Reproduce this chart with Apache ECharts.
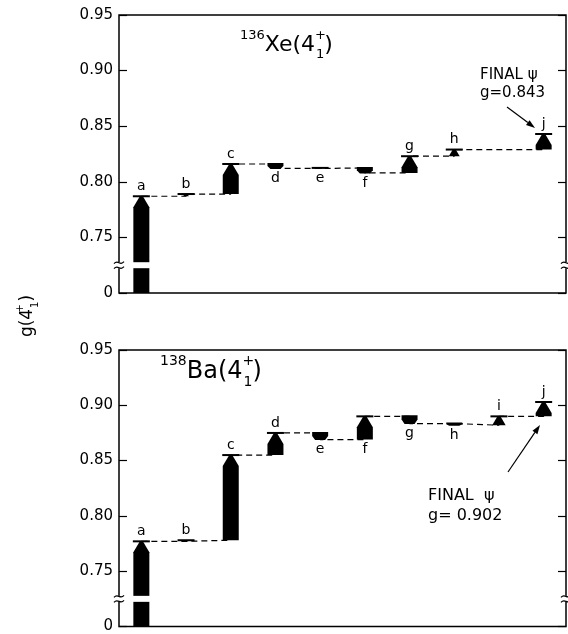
<!DOCTYPE html>
<html>
<head>
<meta charset="utf-8">
<script src="https://cdn.jsdelivr.net/npm/echarts@6.0.0/dist/echarts.min.js"></script>
<style>
html, body { margin: 0; padding: 0; background: #fff; }
#main { width: 568px; height: 634px; }
</style>
</head>
<body>
<div id="main"></div>
<script>
// 每一步修正 a..j 之后的 g 值，null 表示这一步没有
var categories = ['a', 'b', 'c', 'd', 'e', 'f', 'g', 'h', 'i', 'j'];
var xeValues = [0.787, 0.789, 0.816, 0.812, 0.8125, 0.808, 0.823, 0.829, null, 0.843];
var baValues = [0.777, 0.778, 0.855, 0.875, 0.869, 0.890, 0.8835, 0.882, 0.890, 0.903];
var startValue = 0;
// 纵轴刻度，最下面的 0.70 其实是断轴后的 0
var yTicks = [0.70, 0.75, 0.80, 0.85, 0.90, 0.95];
var breakValue = 0.725;
var xeFinal = '0.843';
var baFinal = '0.902';

var FONT = '"DejaVu Sans", sans-serif';
var xeBelow = ['d', 'e', 'f'];
var baBelow = ['e', 'f', 'g', 'h'];

function buildSteps(values) {
    var out = [];
    var prev = startValue;
    values.forEach(function (v, i) {
        if (v == null) return;
        out.push([i, prev, v]);
        prev = v;
    });
    return out;
}

function renderStep(below) {
    return function (params, api) {
        var idx = api.value(0);
        var from = api.value(1);
        var to = api.value(2);
        var yMin = yTicks[0];
        var p = api.coord([idx, to]);
        var cx = p[0], yTo = p[1];
        var yFrom = api.coord([idx, Math.max(from, yMin)])[1];
        var hw = 8, tip = 1.5, head = 11;
        var span = Math.abs(yFrom - yTo);
        var h = Math.min(head, span);
        var kids = [];
        var pts;
        if (to >= from) {
            var bw = tip + (hw - tip) * h / head;
            pts = [[cx - tip, yTo], [cx + tip, yTo], [cx + bw, yTo + h],
                   [cx + bw, yFrom], [cx - bw, yFrom], [cx - bw, yTo + h]];
            kids.push({ type: 'polygon', shape: { points: pts }, style: { fill: '#000' } });
            kids.push({ type: 'rect', shape: { x: cx - hw - 0.5, y: yTo - 1, width: 2 * hw + 1, height: 2 }, style: { fill: '#000' } });
        } else {
            // 向下的一步：旧值处宽，收窄到新值
            var mid = yFrom + span * 0.45;
            pts = [[cx - hw, yFrom - 1], [cx + hw, yFrom - 1], [cx + hw, mid],
                   [cx + 5, yTo + 0.5], [cx - 5, yTo + 0.5], [cx - hw, mid]];
            kids.push({ type: 'polygon', shape: { points: pts }, style: { fill: '#000' } });
        }
        if (from < breakValue) {
            var yb = api.coord([idx, breakValue])[1];
            kids.push({ type: 'rect', shape: { x: cx - hw - 1, y: yb - 3, width: 2 * hw + 2, height: 6 }, style: { fill: '#fff' } });
        }
        var isBelow = below.indexOf(categories[idx]) >= 0;
        kids.push({
            type: 'text',
            style: {
                text: categories[idx],
                x: cx,
                y: isBelow ? Math.max(yFrom, yTo) + 3 : yTo - 3,
                align: 'center',
                verticalAlign: isBelow ? 'top' : 'bottom',
                font: '14px ' + FONT,
                fill: '#000'
            }
        });
        return { type: 'group', children: kids };
    };
}

function renderBreak(params, api) {
    var cs = params.coordSys;
    var y = api.coord([0, api.value(1)])[1];
    var kids = [];
    [cs.x, cs.x + cs.width].forEach(function (x) {
        kids.push({ type: 'rect', shape: { x: x - 3, y: y - 3, width: 6, height: 6 }, style: { fill: '#fff' } });
        [-2.5, 2.5].forEach(function (d) {
            kids.push({
                type: 'bezierCurve',
                shape: { x1: x - 5, y1: y + d + 1, x2: x + 5, y2: y + d - 1, cpx1: x - 1, cpy1: y + d - 4, cpx2: x + 1, cpy2: y + d + 4 },
                style: { stroke: '#000', lineWidth: 1.2, fill: null }
            });
        });
    });
    return { type: 'group', children: kids };
}

function yAxis(gridIndex, right) {
    return {
        type: 'value',
        gridIndex: gridIndex,
        position: right ? 'right' : 'left',
        min: yTicks[0],
        max: yTicks[yTicks.length - 1],
        interval: 0.05,
        axisLine: { show: false },
        axisTick: { show: true, inside: true, length: 8, lineStyle: { color: '#000', width: 1.2 } },
        axisLabel: {
            show: !right,
            margin: 6,
            color: '#000',
            fontSize: 15,
            fontFamily: FONT,
            formatter: function (v) {
                return v < yTicks[0] + 0.001 ? '0' : v.toFixed(2);
            }
        },
        splitLine: { show: false }
    };
}

function xAxis(gridIndex) {
    return {
        type: 'category',
        gridIndex: gridIndex,
        data: categories,
        axisLine: { show: false },
        axisTick: { show: false },
        axisLabel: { show: false }
    };
}

function panelSeries(i, values, below) {
    return [
        {
            type: 'line',
            xAxisIndex: i,
            yAxisIndex: i * 2,
            data: values,
            connectNulls: true,
            step: 'end',
            symbol: 'none',
            lineStyle: { color: '#000', width: 1.2, type: [6, 4] },
            z: 1,
            silent: true
        },
        {
            type: 'custom',
            xAxisIndex: i,
            yAxisIndex: i * 2,
            data: buildSteps(values),
            renderItem: renderStep(below),
            clip: false,
            z: 2,
            silent: true
        },
        {
            type: 'custom',
            xAxisIndex: i,
            yAxisIndex: i * 2,
            data: [[0, breakValue]],
            renderItem: renderBreak,
            clip: false,
            z: 3,
            silent: true
        }
    ];
}

function arrow(x1, y1, x2, y2) {
    var a = Math.atan2(y2 - y1, x2 - x1), L = 9, W = 3;
    var bx = x2 - L * Math.cos(a), by = y2 - L * Math.sin(a);
    return [
        { type: 'line', shape: { x1: x1, y1: y1, x2: bx, y2: by }, style: { stroke: '#000', lineWidth: 1.2 } },
        { type: 'polygon', shape: { points: [[x2, y2], [bx - W * Math.sin(a), by + W * Math.cos(a)], [bx + W * Math.sin(a), by - W * Math.cos(a)]] }, style: { fill: '#000' } }
    ];
}

function titleRich(size) {
    var s = Math.round(size * 0.6);
    return {
        m: { fontSize: size, fontFamily: FONT, color: '#000', lineHeight: Math.round(size * 1.45) },
        sp: { fontSize: s, fontFamily: FONT, color: '#000', verticalAlign: 'top' },
        pp: { fontSize: s, fontFamily: FONT, color: '#000', verticalAlign: 'top', width: 1 },
        sb: { fontSize: s, fontFamily: FONT, color: '#000', verticalAlign: 'bottom' }
    };
}

var myChart = echarts.init(document.getElementById('main'));

var graphics = [
    { type: 'text', left: 240, top: 29, style: { text: '{sp|136}{m|Xe(4}{pp|+}{sb|1}{m|)}', rich: titleRich(22) } },
    { type: 'text', left: 160, top: 354, style: { text: '{sp|138}{m|Ba(4}{pp|+}{sb|1}{m|)}', rich: titleRich(24) } },
    {
        type: 'text', x: 28, y: 316, rotation: Math.PI / 2,
        style: { text: '{m|g(4}{pp|+}{sb|1}{m|)}', rich: titleRich(17), align: 'center', verticalAlign: 'middle' }
    },
    { type: 'text', x: 480, y: 68, style: { text: 'FINAL ψ', font: '15px ' + FONT, fill: '#000' } },
    { type: 'text', x: 480, y: 86, style: { text: 'g=' + xeFinal, font: '15px ' + FONT, fill: '#000' } },
    { type: 'text', x: 428, y: 488, style: { text: 'FINAL  ψ', font: '16px ' + FONT, fill: '#000' } },
    { type: 'text', x: 428, y: 508, style: { text: 'g= ' + baFinal, font: '16px ' + FONT, fill: '#000' } }
].concat(arrow(507, 107, 535, 128)).concat(arrow(508, 472, 540, 425));

var option = {
    animation: false,
    backgroundColor: '#fff',
    grid: [
        { left: 119, top: 15, width: 447, height: 278, show: true, borderColor: '#000', borderWidth: 1.5, backgroundColor: 'transparent' },
        { left: 119, top: 350, width: 447, height: 278, show: true, borderColor: '#000', borderWidth: 1.5, backgroundColor: 'transparent' }
    ],
    xAxis: [xAxis(0), xAxis(1)],
    yAxis: [yAxis(0, false), yAxis(0, true), yAxis(1, false), yAxis(1, true)],
    series: panelSeries(0, xeValues, xeBelow).concat(panelSeries(1, baValues, baBelow)),
    graphic: graphics
};
myChart.setOption(option);
</script>
</body>
</html>
